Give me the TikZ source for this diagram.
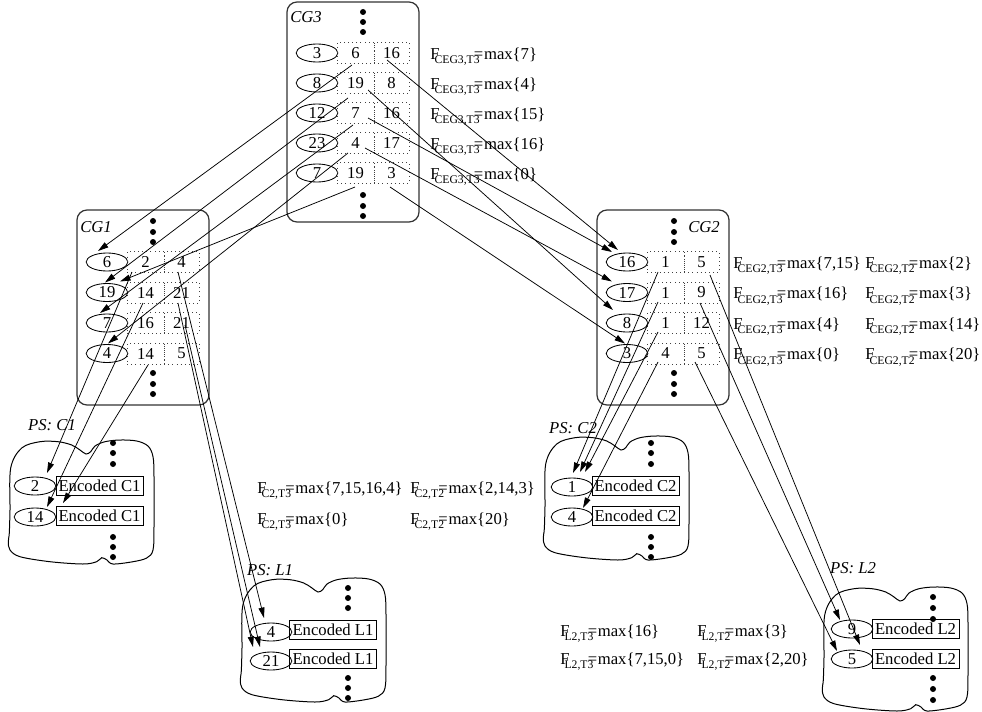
\documentclass[tikz,border=0pt]{standalone}
\usepackage{fontspec}
\setmainfont{Liberation Serif}
\usetikzlibrary{shapes.geometric,calc,arrows.meta}
\newcommand{\Fm}[2]{F\kern-3pt\raisebox{-2.7pt}{\fontsize{7}{8}\selectfont #1}\kern-3.4pt=\kern0.4pt#2}
\newcommand{\psblob}[2]{\draw[line width=0.6pt, shift={(#1,#2)}] plot[smooth cycle, tension=0.55] coordinates {
(2,70) (2.7,28) (13.7,8) (32,1.7) (50,1.7) (63.7,5) (72,10) (78,14) (82.7,11.7) (87,6) (97,1.7) (112,0) (128.7,1) (140,6) (145,16.7) (146,36.7) (146,86.7) (145,110) (138.7,118) (125,121.7) (105,124) (99,120) (93.7,117.7) (88.7,121.7) (75,124) (42,121.7) (12,116.7) (2,110) (0.3,101.7) (1.3,93)};}
\tikzset{
 grp/.style={draw=black!80, line width=0.75pt, rounded corners=6pt},
 idell/.style={ellipse, draw, line width=0.5pt, minimum width=25pt, minimum height=10.8pt, inner sep=0pt},
 cella/.style={draw=black!75, dotted, line width=0.5pt, minimum width=22.2pt, minimum height=12.6pt, inner sep=0pt},
 cellb/.style={cella, minimum width=21pt},
 encbox/.style={draw, line width=0.5pt, minimum width=52.2pt, minimum height=11.4pt, inner sep=0pt},
 lnk/.style={line width=0.45pt, -{Triangle[length=6.3pt,width=3.6pt]}},
 grplab/.style={font=\fontsize{10}{12}\selectfont\itshape, inner sep=0pt},
 fml/.style={anchor=base west, inner sep=0pt},
}
\begin{document}
\begin{tikzpicture}[x=0.6pt,y=-0.6pt, font=\fontsize{10}{12}\selectfont]
\useasboundingbox (0,0) rectangle (982,711);
% group boxes
\draw[grp] (287,2) rectangle (419,222);
\draw[grp] (77,210) rectangle (209,405);
\draw[grp] (597,210) rectangle (729,405);
\node[grplab] (lab3) at (306,17) {CG3};
\node[grplab] (lab1) at (96,227) {CG1};
\node[grplab] (lab2) at (704,227) {CG2};
% dots
\foreach \y in {12,22,32,195,206,216} \fill (363,\y) circle[radius=1.8pt];
\foreach \y in {221,232,242,373,384,394} {\fill (153,\y) circle[radius=1.8pt]; \fill (674,\y) circle[radius=1.8pt];}
\foreach \y in {443,453,464,537,547,557} {\fill (113,\y) circle[radius=1.8pt]; \fill (651,\y) circle[radius=1.8pt];}
\foreach \y in {588,598,608,678,688,698} \fill (348,\y) circle[radius=1.8pt];
\foreach \y in {597,608,619,678,689,700} \fill (933,\y) circle[radius=1.8pt];
% CG3 rows
\foreach \i/\e/\a/\b/\m in {1/3/6/16/7, 2/8/19/8/4, 3/12/7/16/15, 4/23/4/17/16, 5/7/19/3/0} {
  \pgfmathsetmacro\yy{53+30*(\i-1)}
  \node[idell] (g3e\i) at (317,\yy) {\e};
  \node[cella] (g3a\i) at (355.5,\yy) {\a};
  \node[cellb] (g3b\i) at (391.5,\yy) {\b};
  \node[fml] (f3\i) at (430,\yy+6) {\Fm{CEG3,T3}{max\{\m\}}};
}
% CG1 rows
\foreach \i/\e/\a/\b in {1/6/2/4, 2/19/14/21, 3/7/16/21, 4/4/14/5} {
  \pgfmathsetmacro\yy{262+30.5*(\i-1)}
  \node[idell] (g1e\i) at (107,\yy) {\e};
  \node[cella] (g1a\i) at (145.5,\yy) {\a};
  \node[cellb] (g1b\i) at (181.5,\yy) {\b};
}
% CG2 rows
\foreach \i/\e/\a/\b/\m/\n in {1/16/1/5/{7,15}/2, 2/17/1/9/16/3, 3/8/1/12/4/14, 4/3/4/5/0/20} {
  \pgfmathsetmacro\yy{262+30.5*(\i-1)}
  \node[idell] (g2e\i) at (627,\yy) {\e};
  \node[cella] (g2a\i) at (665.5,\yy) {\a};
  \node[cellb] (g2b\i) at (701.5,\yy) {\b};
  \node[fml] (f2a\i) at (733,\yy+6) {\Fm{CEG2,T3}{max\{\m\}}};
  \node[fml] (f2b\i) at (865,\yy+6) {\Fm{CEG2,T2}{max\{\n\}}};
}
% PS blobs
\psblob{8}{440}
\psblob{240}{578}
\psblob{543}{436}
\psblob{822}{587}
\node[grplab] (pc1) at (52,425) {PS: C1};
\node[grplab] (pl1) at (270,570) {PS: L1};
\node[grplab] (pc2) at (573,428) {PS: C2};
\node[grplab] (pl2) at (853,568) {PS: L2};
\node[idell] (c1e1) at (35,486) {2};
\node[encbox] (c1b1) at (99.5,486) {Encoded C1};
\node[idell] (c1e2) at (35,517) {14};
\node[encbox] (c1b2) at (99.5,516) {Encoded C1};
\node[idell] (l1e1) at (271,632) {4};
\node[encbox] (l1b1) at (333,630) {Encoded L1};
\node[idell] (l1e2) at (271,661) {21};
\node[encbox] (l1b2) at (333,659) {Encoded L1};
\node[idell] (c2e1) at (572,487) {1};
\node[encbox] (c2b1) at (635.5,486) {Encoded C2};
\node[idell] (c2e2) at (572,517) {4};
\node[encbox] (c2b2) at (635.5,516) {Encoded C2};
\node[idell] (l2e1) at (852,629) {9};
\node[encbox] (l2b1) at (915.5,629) {Encoded L2};
\node[idell] (l2e2) at (852,659) {5};
\node[encbox] (l2b2) at (915.5,659) {Encoded L2};
% formulas
\node[fml] (m1) at (257,493) {\Fm{C2,T3}{max\{7,15,16,4\}}};
\node[fml] (m2) at (410,493) {\Fm{C2,T2}{max\{2,14,3\}}};
\node[fml] (m3) at (257,524) {\Fm{C2,T3}{max\{0\}}};
\node[fml] (m4) at (410,524) {\Fm{C2,T2}{max\{20\}}};
\node[fml] (n1) at (560,636) {\Fm{L2,T3}{max\{16\}}};
\node[fml] (n2) at (697,636) {\Fm{L2,T2}{max\{3\}}};
\node[fml] (n3) at (560,664) {\Fm{L2,T3}{max\{7,15,0\}}};
\node[fml] (n4) at (697,664) {\Fm{L2,T2}{max\{2,20\}}};
% CG3 -> CG1
\draw[lnk] ($(g3a1)+(-3.5,12)$) -- ($(g1e1)+(-9,-11)$);
\draw[lnk] ($(g3a2)+(-7.5,15)$) -- ($(g1e2)+(-2,-10)$);
\draw[lnk] ($(g3a3)+(-2.5,12)$) -- ($(g1e3)+(-7,-10)$);
\draw[lnk] ($(g3a4)+(-7.5,10)$) -- ($(g1e4)+(1,-10)$);
\draw[lnk] ($(g3a5)+(-0.5,14)$) -- ($(g1e2)+(13,-11)$);
% CG3 -> CG2
\draw[lnk] ($(g3b1)+(-4.5,7)$) -- ($(g2e1)+(-9,-12)$);
\draw[lnk] ($(g3a2)+(12.5,7)$) -- ($(g2e3)+(-14,-13)$);
\draw[lnk] ($(g3a3)+(12.5,5)$) -- ($(g2e1)+(-15,-10)$);
\draw[lnk] ($(g3a4)+(9.5,5)$) -- ($(g2e2)+(-15,-11)$);
\draw[lnk] ($(g3b5)+(-1.5,14)$) -- ($(g2e4)+(-2,-10)$);
% CG1 -> C1
\draw[lnk] ($(g1a1)+(-13.5,10)$) -- ($(c1e1)+(12,-13)$);
\draw[lnk] ($(g1a2)+(-2.5,10.5)$) -- ($(c1e2)+(12,-10)$);
\draw[lnk] ($(g1a4)+(2.5,11.5)$) -- ($(c1e2)+(28,-14)$);
% CG1 -> L1
\draw[lnk] ($(g1b1)+(-3.5,10)$) -- ($(l1e1)+(-7,-14)$);
\draw[lnk] ($(g1b2)+(-3.5,10.5)$) -- ($(l1e2)+(-18,-14)$);
\draw[lnk] ($(g1b3)+(3.5,2)$) -- ($(l1e2)+(-11,-14)$);
% CG2 -> C2
\draw[lnk] ($(g2a1)+(-7.5,10)$) -- ($(c2e1)+(1,-14)$);
\draw[lnk] ($(g2a2)+(-7.5,9.5)$) -- ($(c2e1)+(8,-15)$);
\draw[lnk] ($(g2a3)+(-7.5,9)$) -- ($(c2e1)+(13,-15)$);
\draw[lnk] ($(g2a4)+(-7.5,8.5)$) -- ($(c2e2)+(11,-9)$);
% CG2 -> L2
\draw[lnk] ($(g2b1)+(8.5,13)$) -- ($(l2e2)+(8,-14)$);
\draw[lnk] ($(g2b2)+(-1.5,10.5)$) -- ($(l2e1)+(-12,-9)$);
\draw[lnk] ($(g2b4)+(-6.5,8.5)$) -- ($(l2e2)+(-15,-8)$);
\end{tikzpicture}
\end{document}
